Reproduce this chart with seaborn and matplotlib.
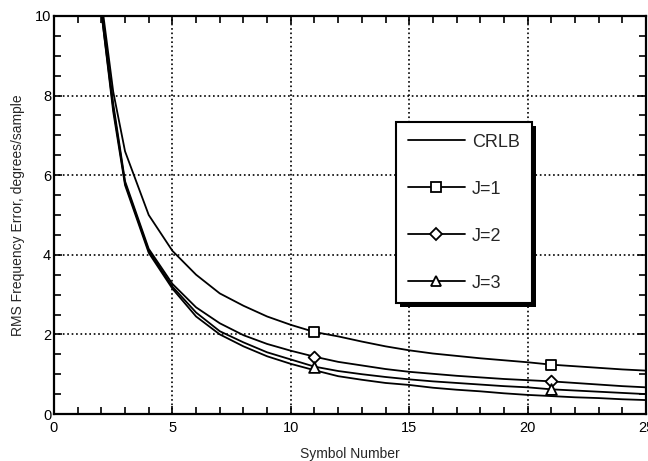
import numpy as np
import pandas as pd
import matplotlib
matplotlib.use("Agg")
import matplotlib.pyplot as plt
import seaborn as sns
from matplotlib.lines import Line2D
from matplotlib.patches import Rectangle
from matplotlib.ticker import MultipleLocator

# ---- data ----
symbol = [2, 2.5, 3, 4, 5, 6, 7, 8, 9, 10, 11, 12, 13, 14, 15, 16, 17, 18, 19, 20, 21, 22, 23, 24, 25]
crlb = [10.1, 7.6, 5.75, 4.05, 3.15, 2.45, 2.00, 1.70, 1.45, 1.26, 1.10, 0.95, 0.86, 0.78, 0.73,
        0.66, 0.61, 0.57, 0.52, 0.48, 0.45, 0.42, 0.40, 0.37, 0.35]
j1 = [10.4, 8.1, 6.6, 5.0, 4.1, 3.5, 3.03, 2.72, 2.45, 2.24, 2.06, 1.95, 1.82, 1.70, 1.60,
      1.52, 1.46, 1.40, 1.35, 1.30, 1.24, 1.20, 1.16, 1.12, 1.09]
j2 = [10.2, 7.8, 5.85, 4.15, 3.27, 2.68, 2.28, 1.98, 1.76, 1.59, 1.44, 1.31, 1.22, 1.13, 1.06,
      1.01, 0.96, 0.92, 0.88, 0.85, 0.82, 0.78, 0.74, 0.70, 0.67]
j3 = [10.1, 7.7, 5.8, 4.1, 3.2, 2.55, 2.08, 1.80, 1.55, 1.37, 1.19, 1.08, 1.00, 0.93, 0.87,
      0.82, 0.78, 0.74, 0.70, 0.67, 0.62, 0.59, 0.56, 0.53, 0.50]
marker_symbols = [11, 21]
series_names = ["CRLB", "J=1", "J=2", "J=3"]
series_markers = [None, "s", "D", "^"]
x_ticks = [0, 5, 10, 15, 20, 25]
y_ticks = [0, 2, 4, 6, 8, 10]

df = pd.DataFrame({"Symbol": symbol, "CRLB": crlb, "J=1": j1, "J=2": j2, "J=3": j3})

sns.set_theme(style="ticks")
plt.rcParams["font.family"] = ["Liberation Sans", "DejaVu Sans"]

fig = plt.figure(figsize=(6.48, 4.61), dpi=100)
ax = fig.add_axes([54 / 648, 47 / 461, 592 / 648, 398 / 461])

msize = {"s": 60, "D": 36, "^": 60}
for name, mk in zip(series_names, series_markers):
    sns.lineplot(data=df, x="Symbol", y=name, ax=ax, color="black", lw=1.3, zorder=2)
    if mk is not None:
        sub = df[df["Symbol"].isin(marker_symbols)]
        sns.scatterplot(data=sub, x="Symbol", y=name, ax=ax, marker=mk, s=msize[mk],
                        facecolor="white", edgecolor="black", linewidth=1.3, zorder=3)

ax.set_xlim(0, 25)
ax.set_ylim(0, 10)
ax.set_xticks(x_ticks)
ax.set_yticks(y_ticks)
ax.xaxis.set_minor_locator(MultipleLocator(1))
ax.yaxis.set_minor_locator(MultipleLocator(0.5))
ax.tick_params(which="both", direction="in", top=True, right=True, colors="black",
               labelsize=10.5)
ax.tick_params(axis="x", which="major", pad=5)
ax.tick_params(axis="y", which="major", pad=2)
ax.tick_params(which="major", length=6, width=1.2)
ax.tick_params(which="minor", length=5, width=1.2)
ax.grid(which="major", linestyle=":", color="black", lw=1.2)
for sp in ax.spines.values():
    sp.set_color("black")
    sp.set_linewidth(1.6)

ax.set_xlabel("Symbol Number", fontsize=10, labelpad=9)
ax.set_ylabel("RMS Frequency Error, degrees/sample", fontsize=10, labelpad=7)

handles = []
for name, mk in zip(series_names, series_markers):
    handles.append(Line2D([], [], color="black", lw=1.3, marker=mk if mk else None,
                          markersize=7 if mk == "s" else 6.5, markerfacecolor="white",
                          markeredgecolor="black", markeredgewidth=1.3))
leg = ax.legend(handles, series_names, loc="upper left", bbox_to_anchor=(0.578, 0.734),
                borderaxespad=0, fontsize=13, handlelength=3.15, handletextpad=0.4,
                labelspacing=1.66, borderpad=0.65, frameon=True, fancybox=False,
                framealpha=1, edgecolor="black")
leg.get_frame().set_linewidth(1.5)
leg.set_zorder(5)

fig.canvas.draw()
bb = leg.get_window_extent()
shadow = Rectangle((bb.x0 + 4, bb.y0 - 4), bb.width, bb.height, transform=None,
                   facecolor="black", edgecolor="none", zorder=4.9, clip_on=False)
ax.add_artist(shadow)

fig.savefig("out.png", dpi=100)
